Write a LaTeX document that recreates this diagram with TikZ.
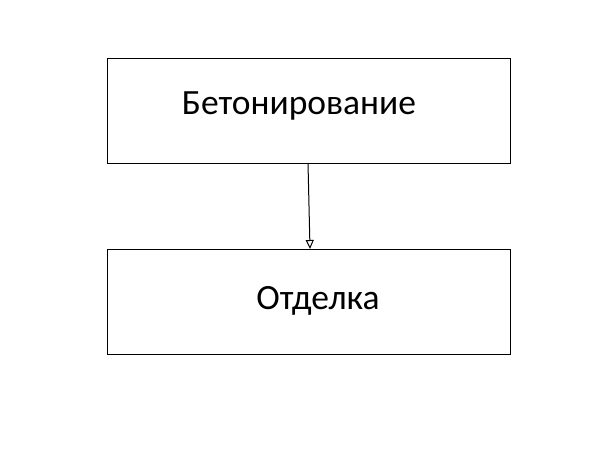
\documentclass[tikz,border=0pt]{standalone}
\usepackage{fontspec}
\setmainfont{Carlito}
\usetikzlibrary{arrows.meta}
\begin{document}
\begin{tikzpicture}[x=1pt,y=-1pt,box/.style={draw,line width=1pt,minimum width=403pt,minimum height=105pt,inner sep=0pt},lbl/.style={font=\fontsize{35.5}{42}\selectfont}]
\useasboundingbox (0,0) rectangle (600,450);
\node[box] (a) at (308.5,110.5) {};
\node[box] (b) at (308.5,301.5) {};
\node[lbl] (ta) at (299,106) {Бетонирование};
\node[lbl] (tb) at (318,301) {Отделка};
\draw[line width=1pt,-{Stealth[open,length=9pt,width=8pt,inset=0pt]}] (308,163) -- (310,249);
\end{tikzpicture}
\end{document}
